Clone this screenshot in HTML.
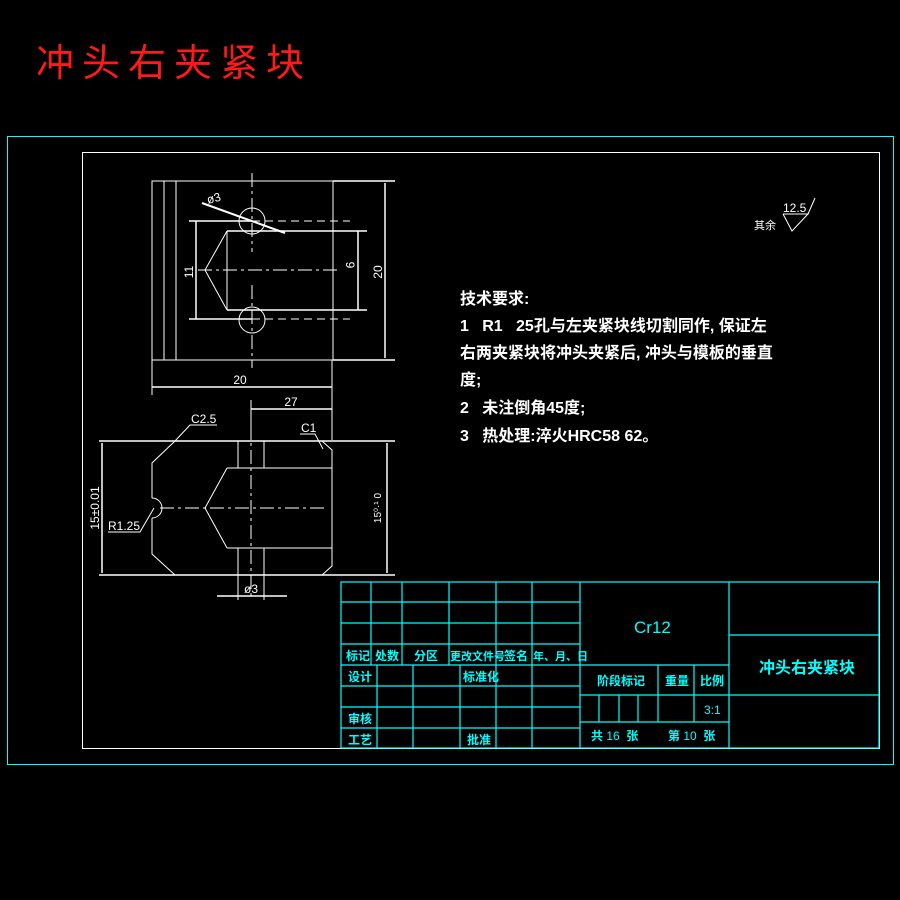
<!DOCTYPE html>
<html><head><meta charset="utf-8"><style>
html,body{margin:0;padding:0;background:#000;width:900px;height:900px;overflow:hidden}
svg{display:block}
text{font-family:"Liberation Sans","Noto Sans CJK SC",sans-serif;white-space:pre}
</style></head><body>
<svg width="900" height="900" viewBox="0 0 900 900" xmlns="http://www.w3.org/2000/svg" xml:space="preserve">
<text x="36" y="76" fill="#ff1a1a" font-size="38" font-family="'Noto Serif CJK SC',serif" letter-spacing="8">冲头右夹紧块</text>
<rect x="7.5" y="136.5" width="886" height="628" fill="none" stroke="#00ffff" stroke-width="1"/>
<rect x="82.5" y="152.5" width="797" height="596" fill="none" stroke="#fff" stroke-width="1"/>

<g stroke="#fff" stroke-width="1" fill="none">
<rect x="152" y="181" width="181" height="179"/>
<line x1="164" y1="181" x2="164" y2="360"/><line x1="176" y1="181" x2="176" y2="360"/>
<line x1="333" y1="181" x2="395" y2="181" stroke-width="1.5"/><line x1="333" y1="360" x2="395" y2="360" stroke-width="1.5"/>
<line x1="385" y1="183" x2="385" y2="358" stroke-width="1.5"/>
<circle cx="252" cy="221" r="13"/><circle cx="252" cy="320" r="13"/>
<line x1="252" y1="173" x2="252" y2="252" stroke-dasharray="14,4,3,4"/>
<line x1="252" y1="285" x2="252" y2="368" stroke-dasharray="14,4,3,4"/>
<line x1="189" y1="221" x2="252" y2="221" stroke-width="1.5"/><line x1="252" y1="221" x2="350" y2="221" stroke-dasharray="8,5"/>
<line x1="189" y1="319" x2="252" y2="319" stroke-width="1.5"/><line x1="252" y1="319" x2="350" y2="319" stroke-dasharray="8,5"/>
<line x1="227" y1="231" x2="367" y2="231" stroke-width="1.5"/><line x1="227" y1="310" x2="367" y2="310" stroke-width="1.5"/>
<polyline points="227,231 205,270 227,310"/><line x1="227" y1="231" x2="227" y2="310"/>
<line x1="198" y1="270" x2="340" y2="270" stroke-dasharray="14,4,3,4"/>
<line x1="196" y1="221" x2="196" y2="319" stroke-width="1.5"/>
<line x1="358" y1="231" x2="358" y2="310" stroke-width="1.5"/>
<line x1="202" y1="203" x2="285" y2="233" stroke-width="2"/>
<line x1="152" y1="360" x2="152" y2="395"/><line x1="332" y1="360" x2="332" y2="395"/>
<line x1="152" y1="387" x2="332" y2="387" stroke-width="1.5"/>
<line x1="99" y1="441" x2="395" y2="441" stroke-width="1.5"/><line x1="99" y1="575" x2="395" y2="575" stroke-width="1.5"/>
<polyline points="175,441 152,463 152,498"/>
<path d="M152,498 A9,9 0 0 1 152,518"/>
<polyline points="152,518 152,554 175,575"/>
<polyline points="322,441 332,450 332,566 322,575"/>
<line x1="238" y1="441" x2="238" y2="468"/><line x1="264" y1="441" x2="264" y2="468"/>
<line x1="238" y1="548" x2="238" y2="600"/><line x1="264" y1="548" x2="264" y2="600"/>
<line x1="227" y1="468" x2="332" y2="468"/><line x1="227" y1="548" x2="332" y2="548"/>
<polyline points="227,468 205,508 227,548"/>
<line x1="160" y1="508" x2="325" y2="508" stroke-dasharray="14,4,3,4"/>
<line x1="251" y1="400" x2="251" y2="600" stroke-dasharray="14,4,3,4"/>
<line x1="251" y1="409" x2="332" y2="409" stroke-width="1.5"/>
<line x1="251" y1="400" x2="251" y2="440"/><line x1="332" y1="395" x2="332" y2="440"/>
<line x1="102" y1="443" x2="102" y2="573" stroke-width="1.5"/>
<line x1="387" y1="443" x2="387" y2="573" stroke-width="1.5"/>
<line x1="217" y1="596" x2="287" y2="596" stroke-width="1.5"/>
<polyline points="175,441 190,425 217,425"/>
<polyline points="323,449 315,434 300,434"/>
<polyline points="154,508 140,532 108,532"/>
</g>
<g fill="#fff" font-size="12">
<text x="208" y="204" transform="rotate(-15 208 204)">ø3</text>
<text x="193" y="272" transform="rotate(-90 193 272)" text-anchor="middle">11</text>
<text x="346" y="265" transform="rotate(90 346 265)" text-anchor="middle">9</text>
<text x="382" y="272" transform="rotate(-90 382 272)" text-anchor="middle">20</text>
<text x="240" y="384" text-anchor="middle">20</text>
<text x="291" y="406" text-anchor="middle">27</text>
<text x="191" y="423">C2.5</text>
<text x="301" y="432">C1</text>
<text x="108" y="530">R1.25</text>
<text x="99" y="508" transform="rotate(-90 99 508)" text-anchor="middle">15±0.01</text>
<text x="381" y="508" transform="rotate(-90 381 508)" text-anchor="middle" font-size="10">15⁰·¹ 0</text>
<text x="251" y="593" text-anchor="middle">ø3</text>
<text x="754" y="229" font-size="11">其余</text>
<text x="783" y="212" font-size="12">12.5</text>
</g>
<polyline points="783,214 808,214 792,231 783,214" fill="none" stroke="#fff"/>
<line x1="808" y1="214" x2="815" y2="198" stroke="#fff"/>
<g fill="#fff" font-size="16" font-weight="bold">
<text x="460" y="304">技术要求:</text>
<text x="460" y="331">1   R1   25孔与左夹紧块线切割同作, 保证左</text>
<text x="460" y="358">右两夹紧块将冲头夹紧后, 冲头与模板的垂直</text>
<text x="460" y="385">度;</text>
<text x="460" y="413">2   未注倒角45度;</text>
<text x="460" y="441">3   热处理:淬火HRC58 62。</text>
</g>
<g stroke="#00ffff" stroke-width="1.2" fill="none">
<rect x="341" y="582" width="538" height="166"/>
<line x1="341" y1="602" x2="580" y2="602"/><line x1="341" y1="623" x2="580" y2="623"/>
<line x1="341" y1="644" x2="580" y2="644"/><line x1="341" y1="665" x2="580" y2="665"/>
<line x1="341" y1="686" x2="580" y2="686"/><line x1="341" y1="707" x2="580" y2="707"/>
<line x1="341" y1="728" x2="580" y2="728"/>
<line x1="371" y1="582" x2="371" y2="665"/><line x1="402" y1="582" x2="402" y2="665"/>
<line x1="449" y1="582" x2="449" y2="665"/><line x1="496" y1="582" x2="496" y2="748"/>
<line x1="532" y1="582" x2="532" y2="748"/><line x1="580" y1="582" x2="580" y2="748"/>
<line x1="377" y1="665" x2="377" y2="748"/><line x1="413" y1="665" x2="413" y2="748"/>
<line x1="460" y1="665" x2="460" y2="748"/>
<line x1="729" y1="582" x2="729" y2="748"/>
<line x1="729" y1="635" x2="879" y2="635"/><line x1="729" y1="695" x2="879" y2="695"/>
<line x1="580" y1="665" x2="729" y2="665"/><line x1="580" y1="695" x2="729" y2="695"/>
<line x1="580" y1="722" x2="729" y2="722"/>
<line x1="599" y1="695" x2="599" y2="722"/><line x1="619" y1="695" x2="619" y2="722"/>
<line x1="638" y1="695" x2="638" y2="722"/><line x1="658" y1="665" x2="658" y2="722"/>
<line x1="694" y1="665" x2="694" y2="722"/>
</g>
<g fill="#00ffff" font-size="12" font-weight="bold">
<text x="346" y="660">标记</text><text x="375" y="660">处数</text><text x="414" y="660">分区</text>
<text x="450" y="660" font-size="11">更改文件号</text><text x="504" y="660">签名</text><text x="533" y="660" font-size="11">年、月、日</text>
<text x="348" y="681">设计</text><text x="463" y="681">标准化</text>
<text x="348" y="723">审核</text><text x="348" y="744">工艺</text><text x="467" y="744">批准</text>
<text x="597" y="685">阶段标记</text><text x="665" y="685">重量</text><text x="700" y="685">比例</text>
<text x="704" y="714" font-weight="normal">3:1</text>
<text x="591" y="740">共 <tspan font-weight="normal">16</tspan>  张</text>
<text x="668" y="740">第 <tspan font-weight="normal">10</tspan>  张</text>
<text x="634" y="633" font-size="17" font-weight="normal">Cr12</text>
<text x="759" y="673" font-size="16">冲头右夹紧块</text>
</g>
</svg>
</body></html>
